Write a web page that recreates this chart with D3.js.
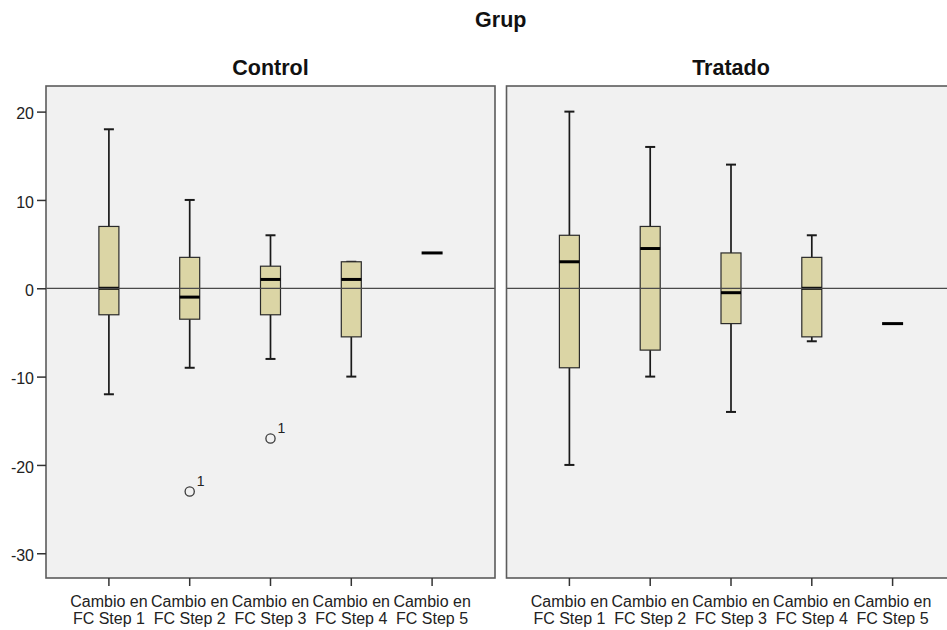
<!DOCTYPE html>
<html>
<head>
<meta charset="utf-8">
<script src="https://cdn.jsdelivr.net/npm/d3@7"></script>
<style>
  html, body { margin: 0; padding: 0; background: #ffffff; }
  svg { display: block; font-family: "Liberation Sans", Arial, sans-serif; }
</style>
</head>
<body>
<svg id="chart" width="947" height="630"></svg>
<script>
// Categories and group panels
const steps = ["Cambio en FC Step 1", "Cambio en FC Step 2", "Cambio en FC Step 3", "Cambio en FC Step 4", "Cambio en FC Step 5"];
const groups = ["Control", "Tratado"];
const yTicks = [20, 10, 0, -10, -20, -30];

// Five-number summaries per step: [min, q1, median, q3, max]
const controlStats = [
  [-12, -3, 0, 7, 18],
  [-9, -3.5, -1, 3.5, 10],
  [-8, -3, 1, 2.5, 6],
  [-10, -5.5, 1, 3, 3],
  [4, 4, 4, 4, 4]
];
const tratadoStats = [
  [-20, -9, 3, 6, 20],
  [-10, -7, 4.5, 7, 16],
  [-14, -4, -0.5, 4, 14],
  [-6, -5.5, 0, 3.5, 6],
  [-4, -4, -4, -4, -4]
];

// Outliers: step index, value, case label
const controlOutliers = [
  { step: 1, value: -23, label: "1" },
  { step: 2, value: -17, label: "1" }
];
const tratadoOutliers = [];

const panelData = [
  { name: groups[0], stats: controlStats, outliers: controlOutliers },
  { name: groups[1], stats: tratadoStats, outliers: tratadoOutliers }
];

const svg = d3.select("#chart");

const panelTop = 86, panelBottom = 578;
const panelW = 449;
const panelLefts = [46, 506.5];
const inner = 22.5;

const y = d3.scaleLinear().domain([-32.8, 22.9]).range([panelBottom, panelTop]);

const boxFill = "#dbd5a5";
const dark = "#1a1a1a";
const frame = "#5c5c5c";

// Overall title
svg.append("text")
  .attr("x", (panelLefts[0] + panelLefts[1] + panelW) / 2)
  .attr("y", 27)
  .attr("text-anchor", "middle")
  .attr("font-weight", "bold")
  .attr("font-size", 21.5)
  .attr("fill", "#111")
  .text("Grup");

panelData.forEach((p, pi) => {
  const left = panelLefts[pi];
  const g = svg.append("g").attr("transform", `translate(${left},0)`);

  const x = d3.scaleBand().domain(steps).range([inner, panelW - inner]).padding(0);
  const cx = s => x(s) + x.bandwidth() / 2;

  // panel title
  g.append("text")
    .attr("x", panelW / 2)
    .attr("y", 75)
    .attr("text-anchor", "middle")
    .attr("font-weight", "bold")
    .attr("font-size", 21.5)
    .attr("fill", "#111")
    .text(p.name);

  // plot background
  g.append("rect")
    .attr("x", 0).attr("y", panelTop)
    .attr("width", panelW).attr("height", panelBottom - panelTop)
    .attr("fill", "#f1f1f1");

  const boxW = 20, capW = 10;

  const box = g.selectAll("g.box")
    .data(p.stats.map((d, i) => ({ step: steps[i], min: d[0], q1: d[1], med: d[2], q3: d[3], max: d[4] })))
    .join("g").attr("class", "box");

  box.each(function(d) {
    const b = d3.select(this);
    const c = cx(d.step);
    const flat = d.min === d.max;
    if (!flat) {
      // whiskers
      b.append("line").attr("x1", c).attr("x2", c).attr("y1", y(d.max)).attr("y2", y(d.q3))
        .attr("stroke", dark).attr("stroke-width", 1.7);
      b.append("line").attr("x1", c).attr("x2", c).attr("y1", y(d.q1)).attr("y2", y(d.min))
        .attr("stroke", dark).attr("stroke-width", 1.7);
      b.append("line").attr("x1", c - capW / 2).attr("x2", c + capW / 2).attr("y1", y(d.max)).attr("y2", y(d.max))
        .attr("stroke", dark).attr("stroke-width", 2);
      b.append("line").attr("x1", c - capW / 2).attr("x2", c + capW / 2).attr("y1", y(d.min)).attr("y2", y(d.min))
        .attr("stroke", dark).attr("stroke-width", 2);
      // box
      b.append("rect")
        .attr("x", c - boxW / 2).attr("y", y(d.q3))
        .attr("width", boxW).attr("height", y(d.q1) - y(d.q3))
        .attr("fill", boxFill).attr("stroke", "#2a2a2a").attr("stroke-width", 1.2);
    }
  });

  // zero reference line
  g.append("line")
    .attr("x1", 0).attr("x2", panelW)
    .attr("y1", y(0)).attr("y2", y(0))
    .attr("stroke", "#4a4a4a").attr("stroke-width", 1.2);

  // medians
  box.append("line")
    .attr("x1", d => cx(d.step) - boxW / 2 - (d.min === d.max ? 0.5 : 0))
    .attr("x2", d => cx(d.step) + boxW / 2 + (d.min === d.max ? 0.5 : 0))
    .attr("y1", d => y(d.med)).attr("y2", d => y(d.med))
    .attr("stroke", "#000").attr("stroke-width", 3);

  // outliers
  const out = g.selectAll("g.out").data(p.outliers).join("g").attr("class", "out");
  out.append("circle")
    .attr("cx", d => cx(steps[d.step])).attr("cy", d => y(d.value))
    .attr("r", 4.6).attr("fill", "none").attr("stroke", "#3a3a3a").attr("stroke-width", 1.3);
  out.append("text")
    .attr("x", d => cx(steps[d.step]) + 7).attr("y", d => y(d.value) - 5)
    .attr("font-size", 14).attr("fill", "#222")
    .text(d => d.label);

  // frame
  g.append("rect")
    .attr("x", 0).attr("y", panelTop)
    .attr("width", panelW).attr("height", panelBottom - panelTop)
    .attr("fill", "none").attr("stroke", frame).attr("stroke-width", 1.6);

  // x axis
  const xAxis = g.append("g")
    .attr("transform", `translate(0,${panelBottom})`)
    .call(d3.axisBottom(x).tickSize(8).tickFormat(""));
  xAxis.select(".domain").remove();
  xAxis.selectAll(".tick line").attr("stroke", "#333").attr("stroke-width", 1.5);
  xAxis.selectAll(".tick").each(function(s) {
    const t = d3.select(this).append("text")
      .attr("text-anchor", "middle").attr("fill", "#222").attr("font-size", 16);
    const parts = s.split(" FC ");
    t.append("tspan").attr("x", 0).attr("y", 28.5).text(parts[0]);
    t.append("tspan").attr("x", 0).attr("y", 45.5).text("FC " + parts[1]);
  });

  // y axis on the first panel
  if (pi === 0) {
    const yAxis = g.append("g")
      .call(d3.axisLeft(y).tickValues(yTicks).tickSize(9).tickPadding(3).tickFormat(d => String(d)));
    yAxis.select(".domain").remove();
    yAxis.selectAll(".tick line").attr("stroke", "#333").attr("stroke-width", 1.5);
    yAxis.selectAll(".tick text")
      .attr("font-size", 16).attr("fill", "#222").attr("dy", "0.45em")
      .attr("font-family", "Liberation Sans, Arial, sans-serif");
  }
});
</script>
</body>
</html>
